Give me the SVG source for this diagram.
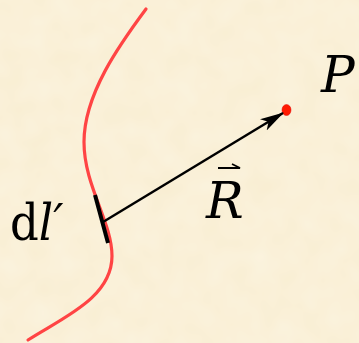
<svg xmlns="http://www.w3.org/2000/svg" width="359" height="343" viewBox="0 0 359 343">
  <defs>
    <style>
      .curve { fill: none; stroke: #FF4444; stroke-width: 3.2; stroke-linecap: round; }
      .vec { fill: none; stroke: #000; stroke-width: 2.5; }
      .lbl { font-family: 'DejaVu Serif', serif; font-size: 50px; fill: #000; }
      .cond { font-family: 'DejaVu Serif Condensed', 'DejaVu Serif', serif; }
      .it { font-style: italic; }
    </style>
    <marker id="arrow" viewBox="0 0 24 13" refX="23" refY="6.5" markerWidth="24" markerHeight="13" markerUnits="userSpaceOnUse" orient="auto">
      <path d="M0,0 L24,6.5 L0,13 L6,6.5 Z" fill="#000"/>
    </marker>
    <filter id="paper" x="0" y="0" width="100%" height="100%">
      <feTurbulence type="fractalNoise" baseFrequency="0.04" numOctaves="2" seed="5" result="n"/>
      <feColorMatrix in="n" type="matrix" values="0 0 0 0 1  0 0 0 0 1  0 0 0 0 0.95  0 0 0 0.35 -0.05"/>
    </filter>
  </defs>
  <rect width="359" height="343" fill="#F9EED3"/>
  <rect width="359" height="343" filter="url(#paper)"/>

  <g id="wire">
    <path class="curve" d="M146,9 C120,44 84,94 84,142 C84,186 112,222 112,256 C112,298 62,318 28,340"/>
  </g>

  <g id="element-dl">
    <line x1="95" y1="195" x2="108" y2="243" stroke="#000" stroke-width="4"/>
    <text class="lbl cond" x="10" y="240">d<tspan class="it">l′</tspan></text>
  </g>

  <g id="point-P">
    <ellipse cx="286.5" cy="110" rx="4.5" ry="5.5" fill="#FF1A00" stroke="#E00000" stroke-width="0.5"/>
    <text class="lbl it" x="321" y="92">P</text>
  </g>

  <g id="connectors">
    <line class="vec" x1="103" y1="222" x2="283" y2="113" marker-end="url(#arrow)"/>
  </g>

  <g id="label-R">
    <text class="lbl it" x="206" y="218">R</text>
    <path d="M218,168 L240,168 L232,164" fill="none" stroke="#000" stroke-width="1.8"/>
  </g>
</svg>
